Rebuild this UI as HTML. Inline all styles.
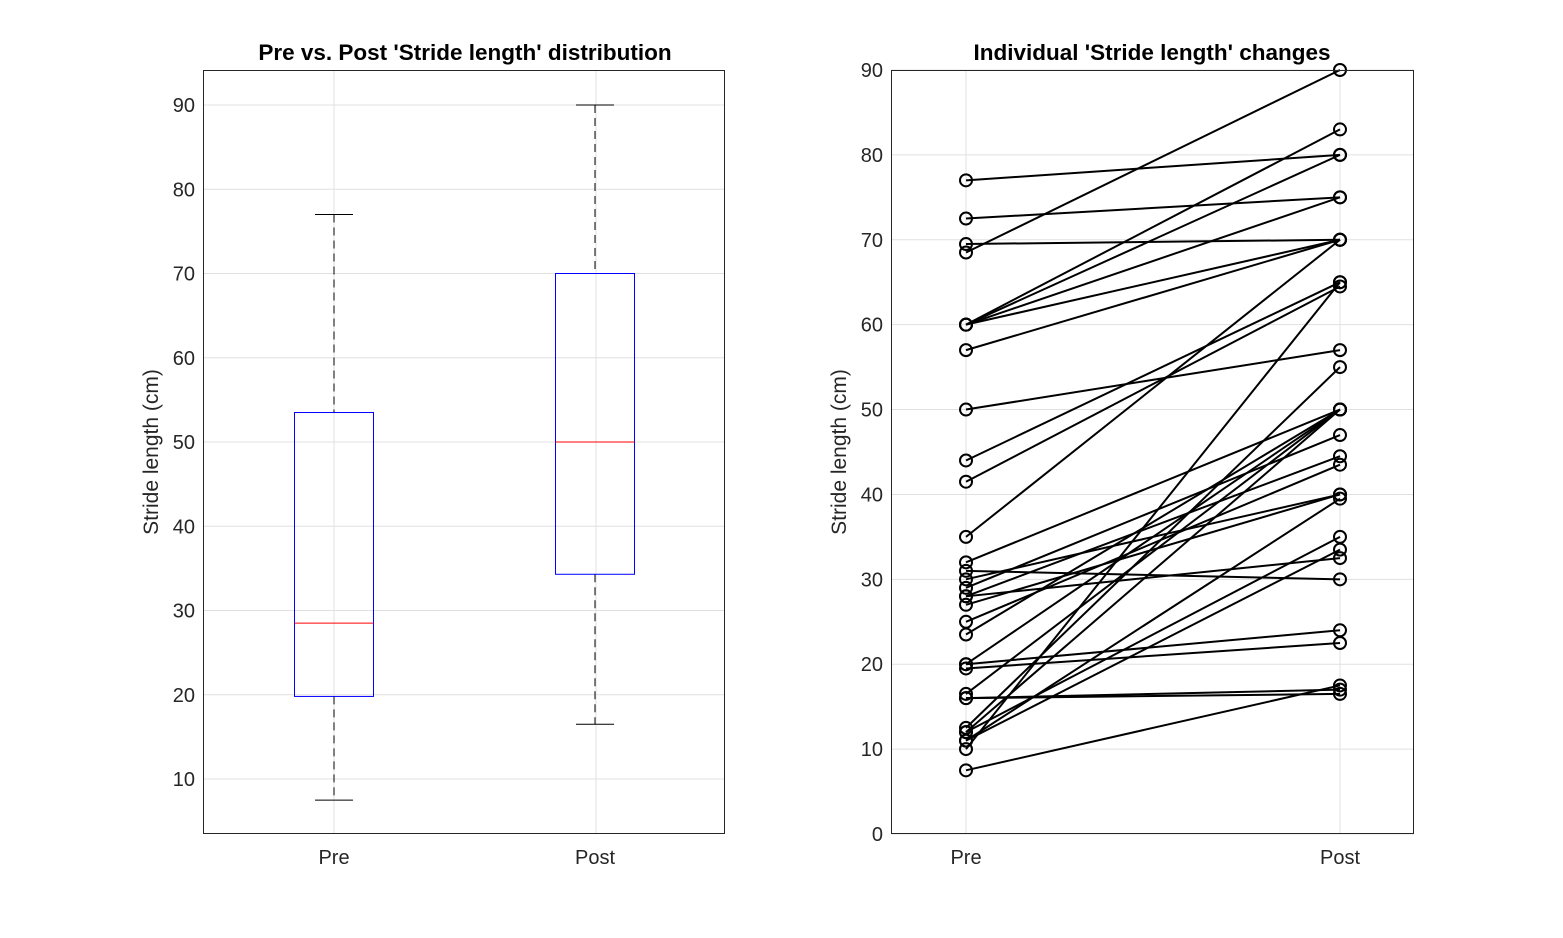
<!DOCTYPE html>
<html><head><style>body{margin:0;background:#fff}svg{display:block}text{font-family:"Liberation Sans",Arial,sans-serif;fill:#262626}</style></head>
<body>
<svg id="s" width="1563" height="938" xmlns="http://www.w3.org/2000/svg"></svg>
<script>
const s=document.getElementById('s');let h='';
const L=v=>779-(v-10)*8.425, R=v=>834-v*8.489;
h+='<rect x="203" y="70" width="522" height="764" fill="#fff"/>';
for(let v=10;v<=90;v+=10){const y=L(v);h+=`<line x1="203" x2="725" y1="${y}" y2="${y}" stroke="#e0e0e0"/><text x="195" y="${y+7}" text-anchor="end" font-size="20">${v}</text>`;}
[334,596].forEach(x=>h+=`<line x1="${x}" x2="${x}" y1="70" y2="834" stroke="#e0e0e0"/>`);
function box(cx,lo,q1,md,q3,hi){
 h+=`<line x1="${cx}" x2="${cx}" y1="${L(hi)}" y2="${L(q3)}" stroke="#000" stroke-dasharray="8,5"/><line x1="${cx}" x2="${cx}" y1="${L(q1)}" y2="${L(lo)}" stroke="#000" stroke-dasharray="8,5"/>`;
 h+=`<line x1="${cx-19}" x2="${cx+19}" y1="${L(hi)}" y2="${L(hi)}" stroke="#000"/><line x1="${cx-19}" x2="${cx+19}" y1="${L(lo)}" y2="${L(lo)}" stroke="#000"/>`;
 h+=`<rect x="${cx-39.5}" y="${L(q3)}" width="79" height="${L(q1)-L(q3)}" fill="none" stroke="#00f"/><line x1="${cx-39.5}" x2="${cx+39.5}" y1="${L(md)}" y2="${L(md)}" stroke="#f00"/>`;}
box(334,7.5,19.8,28.5,53.5,77);box(595,16.5,34.3,50,70,90);
h+='<rect x="203.5" y="70.5" width="521" height="763" fill="none" stroke="#262626"/>';
h+='<text x="334" y="864" text-anchor="middle" font-size="20">Pre</text><text x="595" y="864" text-anchor="middle" font-size="20">Post</text>';
h+='<text x="465" y="60" text-anchor="middle" font-size="22.5" font-weight="bold" style="fill:#000">Pre vs. Post \'Stride length\' distribution</text>';
h+='<text transform="translate(158,452) rotate(-90)" text-anchor="middle" font-size="21">Stride length (cm)</text>';
for(let v=0;v<=90;v+=10){const y=R(v);h+=`<line x1="891" x2="1414" y1="${y}" y2="${y}" stroke="#e0e0e0"/><text x="883" y="${y+7}" text-anchor="end" font-size="20">${v}</text>`;}
[966,1340].forEach(x=>h+=`<line x1="${x}" x2="${x}" y1="70" y2="834" stroke="#e0e0e0"/>`);
const P=[[77,80],[72.5,75],[69.5,70],[68.5,90],[60,83],[60,80],[60,75],[60,70],[57,70],[50,57],[44,65],[41.5,64.5],[35,70],[32,50],[31,30],[30,40],[29,47],[28,32.5],[28,44.5],[27,40],[25,43.5],[23.5,50],[20,50],[20,24],[19.5,22.5],[16.5,50],[16,17],[12.5,55],[12,50],[11,33.5],[11,39.5],[10,65],[12,35],[7.5,17.5],[16,16.5]];
P.forEach(([a,b])=>h+=`<line x1="966" y1="${R(a)}" x2="1340" y2="${R(b)}" stroke="#000" stroke-width="2"/>`);
P.forEach(([a,b])=>h+=`<circle cx="966" cy="${R(a)}" r="6" fill="none" stroke="#000" stroke-width="2"/><circle cx="1340" cy="${R(b)}" r="6" fill="none" stroke="#000" stroke-width="2"/>`);
h+='<rect x="891.5" y="70.5" width="522" height="763" fill="none" stroke="#262626"/>';
h+='<text x="966" y="864" text-anchor="middle" font-size="20">Pre</text><text x="1340" y="864" text-anchor="middle" font-size="20">Post</text>';
h+='<text x="1152" y="60" text-anchor="middle" font-size="22.5" font-weight="bold" style="fill:#000">Individual \'Stride length\' changes</text>';
h+='<text transform="translate(846,452) rotate(-90)" text-anchor="middle" font-size="21">Stride length (cm)</text>';
s.innerHTML=h;
</script>
</body></html>
